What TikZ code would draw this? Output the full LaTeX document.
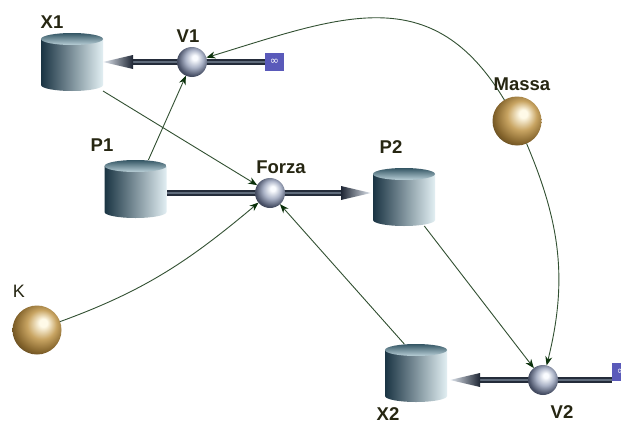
\documentclass[tikz,border=0pt]{standalone}
\usepackage{fontspec}
\setmainfont{Liberation Sans}
\newfontfamily\symfont{DejaVu Sans}
\usetikzlibrary{arrows.meta}

\definecolor{tankL}{RGB}{26,52,67}
\definecolor{tankM}{RGB}{108,142,156}
\definecolor{tankR}{RGB}{226,239,243}
\definecolor{lidT}{RGB}{52,86,100}
\definecolor{lidB}{RGB}{186,208,216}
\definecolor{pipeD}{RGB}{36,44,58}
\definecolor{pipeL}{RGB}{96,108,124}
\definecolor{coneD}{RGB}{30,38,52}
\definecolor{coneL}{RGB}{226,232,240}
\definecolor{valvehi}{RGB}{250,252,255}
\definecolor{valvemid}{RGB}{170,178,198}
\definecolor{valvedk}{RGB}{74,82,104}
\definecolor{goldhi}{RGB}{255,250,232}
\definecolor{goldmid}{RGB}{200,164,98}
\definecolor{golddk}{RGB}{132,100,44}
\definecolor{srccol}{RGB}{90,90,186}
\definecolor{linkcol}{RGB}{50,80,50}
\definecolor{headcol}{RGB}{10,48,10}
\definecolor{tagcol}{RGB}{38,38,18}

% sphere shadings, lit from the upper right
\pgfdeclareradialshading{valveball}{\pgfqpoint{5bp}{8bp}}{%
  color(0bp)=(valvehi); color(4bp)=(valvehi); color(15bp)=(valvemid);
  color(26bp)=(valvedk); color(34bp)=(valvedk!60!black); color(50bp)=(black)}
\pgfdeclareradialshading{goldball}{\pgfqpoint{7bp}{8bp}}{%
  color(0bp)=(goldhi); color(4bp)=(goldhi); color(15bp)=(goldmid);
  color(26bp)=(golddk); color(34bp)=(golddk!60!black); color(50bp)=(black)}

\pgfdeclarelayer{paper}
\pgfdeclarelayer{pipes}
\pgfsetlayers{paper,pipes,main}

\tikzset{
  tank/.pic={
    \shade[left color=tankL, middle color=tankM, right color=tankR]
      (-31,-23) -- (-31,23)
      arc[start angle=180, end angle=360, x radius=31pt, y radius=6pt]
      -- (31,-23) -- cycle;
    \shade[top color=lidT, bottom color=lidB]
      (0,-23) ellipse[x radius=31pt, y radius=6pt];
  },
  coneleft/.pic={
    \shade[left color=coneL, right color=coneD]
      (0,0) -- (30,-7) -- (30,7) -- cycle;
  },
  coneright/.pic={
    \shade[left color=coneD, right color=coneL]
      (0,0) -- (-30,-7) -- (-30,7) -- cycle;
  },
  stock/.style={rectangle, minimum width=62pt, minimum height=58pt,
    inner sep=0pt, outer sep=0pt},
  valve/.style={circle, minimum size=30pt, inner sep=0pt, outer sep=0pt,
    shade, shading=valveball},
  const/.style={circle, minimum size=49pt, inner sep=0pt, outer sep=0pt,
    shade, shading=goldball},
  source/.style={rectangle, minimum width=19pt, minimum height=18pt,
    inner sep=0pt, fill=srccol, text=white,
    font=\symfont\fontsize{11}{11}\selectfont},
  tag/.style={font=\bfseries\fontsize{18.5}{18.5}\selectfont, text=tagcol,
    inner sep=0pt},
  plaintag/.style={font=\fontsize{18}{18}\selectfont, text=tagcol,
    inner sep=0pt},
  pipe/.style={draw=pipeD, line width=2.5pt, double=pipeL,
    double distance=1.8pt},
  link/.style={draw=linkcol, line width=0.9pt,
    -{Stealth[length=9pt, width=7pt, color=headcol]}},
}

\begin{document}
\begin{tikzpicture}[x=1pt, y=-1pt]
\useasboundingbox (0,0) rectangle (621,423);
\begin{pgfonlayer}{paper}
  \fill[white] (0,0) rectangle (621,423);
\end{pgfonlayer}

% stocks
\node[stock] (X1) at (72,62) {};
\node[stock] (P1) at (135.5,189) {};
\node[stock] (P2) at (404,197) {};
\node[stock] (X2) at (416,373) {};
\pic at (X1) {tank};
\pic at (P1) {tank};
\pic at (P2) {tank};
\pic at (X2) {tank};

% flow valves
\node[valve] (V1) at (192,62) {};
\node[valve] (Forza) at (270,193) {};
\node[valve] (V2) at (543,380) {};

% constants
\node[const] (Massa) at (517,121) {};
\node[const] (K) at (37,330) {};

% sources
\node[source] (inf1) at (274.5,61.5) {∞};
\node[source] (inf2) at (621.5,372) {∞};

% flow pipes
\begin{pgfonlayer}{pipes}
  \draw[pipe, shorten >=28pt] (inf1.west |- V1) -- (X1.east |- V1);
  \draw[pipe, shorten >=28pt] (P1.east |- Forza) -- (P2.west |- Forza);
  \draw[pipe, shorten >=28pt] (inf2.west |- V2) -- (X2.east |- V2);
\end{pgfonlayer}
\pic at (X1.east |- V1) {coneleft};
\pic at ([xshift=-2pt]P2.west |- Forza) {coneright};
\pic at ([xshift=3pt]X2.east |- V2) {coneleft};

% information links
\draw[link] (Massa) to[out=121, in=17, looseness=1.2] (V1);
\draw[link] (P1) -- (V1);
\draw[link] (X1.south east) -- (Forza);
\draw[link] (K) to[out=20, in=-140] (Forza);
\draw[link] (X2.112) -- (Forza);
\draw[link] (P2.-55) -- (V2);
\draw[link] (Massa) to[out=-67, in=76] (V2);

% labels
\node[tag] (X1-t) at (52,22) {X1};
\node[tag] (V1-t) at (188,36) {V1};
\node[tag] (P1-t) at (102,145) {P1};
\node[tag] (Forza-t) at (281,167) {Forza};
\node[tag] (P2-t) at (391,147) {P2};
\node[tag] (Massa-t) at (522,84) {Massa};
\node[plaintag] (K-t) at (19,291) {K};
\node[tag] (X2-t) at (388,414) {X2};
\node[tag] (V2-t) at (562,412) {V2};
\end{tikzpicture}
\end{document}
